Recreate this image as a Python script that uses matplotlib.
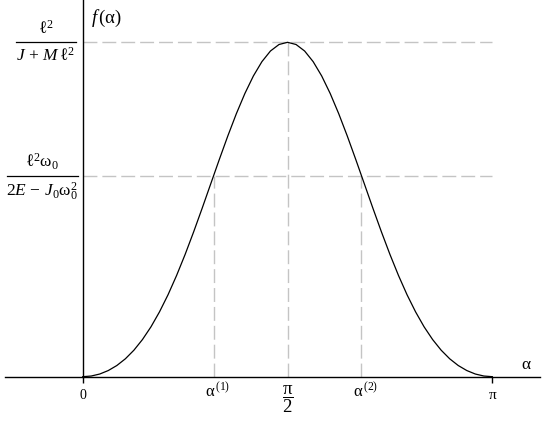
import numpy as np
import matplotlib
matplotlib.use("Agg")
import matplotlib.pyplot as plt
import matplotlib.transforms as mtransforms

plt.rcParams['mathtext.fontset'] = 'custom'
plt.rcParams['mathtext.rm'] = 'Liberation Serif'
plt.rcParams['mathtext.it'] = 'Liberation Serif:italic'
plt.rcParams['mathtext.bf'] = 'Liberation Serif:bold'
plt.rcParams['font.family'] = ['Liberation Serif', 'DejaVu Serif']

# ---- data (f normalised to its maximum) ----
f_values = [0.0, 0.0020, 0.0080, 0.0184, 0.0334, 0.0535, 0.0792, 0.1110,
            0.1491, 0.1939, 0.2451, 0.3026, 0.3655, 0.4331, 0.5039, 0.5766,
            0.6491, 0.7197, 0.7863, 0.8468, 0.8994, 0.9422, 0.9740, 0.9934,
            1.0000,
            0.9934, 0.9740, 0.9422, 0.8994, 0.8468, 0.7863, 0.7197, 0.6491,
            0.5766, 0.5039, 0.4331, 0.3655, 0.3026, 0.2451, 0.1939, 0.1491,
            0.1110, 0.0792, 0.0535, 0.0334, 0.0184, 0.0080, 0.0020, 0.0]
alpha = np.linspace(0, np.pi, len(f_values))
f_max = 1.0
f_level = 0.6
alpha_1 = 1.005
alpha_2 = np.pi - 1.005
alpha_peak = np.pi / 2

xtick_labels = ['0', r'$\mathrm{α}^{\,(1)}$', r'$\dfrac{\mathrm{π}}{2}$',
                r'$\mathrm{α}^{\,(2)}$', r'$\mathrm{π}$']
xtick_pos = [0, alpha_1, alpha_peak, alpha_2, np.pi]
ylab_num = [r'$\mathrm{ℓ}^{2}$', r'$\mathrm{ℓ}^{2}\mathrm{ω}_{0}$']
ylab_den = [r'$J\,+\,M\,\mathrm{ℓ}^{2}$', r'$2E\,-\,J_{0}\mathrm{ω}_{0}^{2}$']
ylab_pos = [f_max, f_level]

# ---- figure ----
fig = plt.figure(figsize=(5.45, 4.21), dpi=100)
ax = fig.add_axes([0, 0, 1, 1])
ax.set_xlim(-0.634, 3.545)
ax.set_ylim(-0.1325, 1.1265)

grey = '#c4c4c4'
dash = (0, (10, 3.6))
# horizontal guides
for y in ylab_pos:
    ax.plot([0, np.pi], [y, y], color=grey, lw=1.0, linestyle=dash, zorder=1)
# vertical guides
ax.plot([alpha_1, alpha_1], [0, f_level], color=grey, lw=1.0, linestyle=dash, zorder=1)
ax.plot([alpha_2, alpha_2], [0, f_level], color=grey, lw=1.0, linestyle=dash, zorder=1)
ax.plot([alpha_peak, alpha_peak], [0, f_max], color=grey, lw=1.0, linestyle=dash, zorder=1)

# curve
ax.plot(alpha, f_values, color='black', lw=0.9, zorder=3)

# axes
for s in ['top', 'right']:
    ax.spines[s].set_visible(False)
ax.spines['left'].set_position(('data', 0))
ax.spines['bottom'].set_position(('data', 0))
ax.spines['bottom'].set_bounds(-0.596, 3.507)
ax.spines['left'].set_bounds(0, 1.1265)
for s in ['left', 'bottom']:
    ax.spines[s].set_linewidth(1.0)
    ax.spines[s].set_zorder(4)
ax.set_xticks([0, np.pi])
ax.set_xticklabels([])
ax.tick_params(axis='x', direction='out', length=4, width=1.0)
ax.set_yticks([])

# x tick labels
ax.text(0, -0.036, xtick_labels[0], ha='center', va='top', fontsize=10)
ax.text(xtick_pos[1] + 0.03, -0.016, xtick_labels[1], ha='center', va='top', fontsize=12)
ax.text(xtick_pos[2], -0.020, xtick_labels[2], ha='center', va='top', fontsize=13.5)
ax.text(xtick_pos[3] + 0.03, -0.016, xtick_labels[3], ha='center', va='top', fontsize=12)
ax.text(xtick_pos[4], -0.036, xtick_labels[4], ha='center', va='top', fontsize=11)

# axis labels
ax.text(3.40, 0.035, r'$\mathrm{α}$', ha='center', va='center', fontsize=12.5)
ax.text(0.065, 1.07, r'$f\,(\mathrm{α})$', ha='left', va='center', fontsize=13.5)

# y labels as fractions
blend = mtransforms.blended_transform_factory(ax.transAxes, ax.transData)
bars = [(0.0294, 0.1394), (0.0123, 0.1426)]
for num, den, y, (x0, x1) in zip(ylab_num, ylab_den, ylab_pos, bars):
    xc = (x0 + x1) / 2
    ax.plot([x0, x1], [y, y], color='black', lw=0.9, transform=blend, clip_on=False)
    ax.annotate(num, xy=(xc, y), xycoords=blend, xytext=(0, 3.2),
                textcoords='offset points', ha='center', va='bottom', fontsize=12.5)
    ax.annotate(den, xy=(xc, y), xycoords=blend, xytext=(0, -3.2),
                textcoords='offset points', ha='center', va='top', fontsize=12.5)

fig.savefig('out.png', dpi=100)
